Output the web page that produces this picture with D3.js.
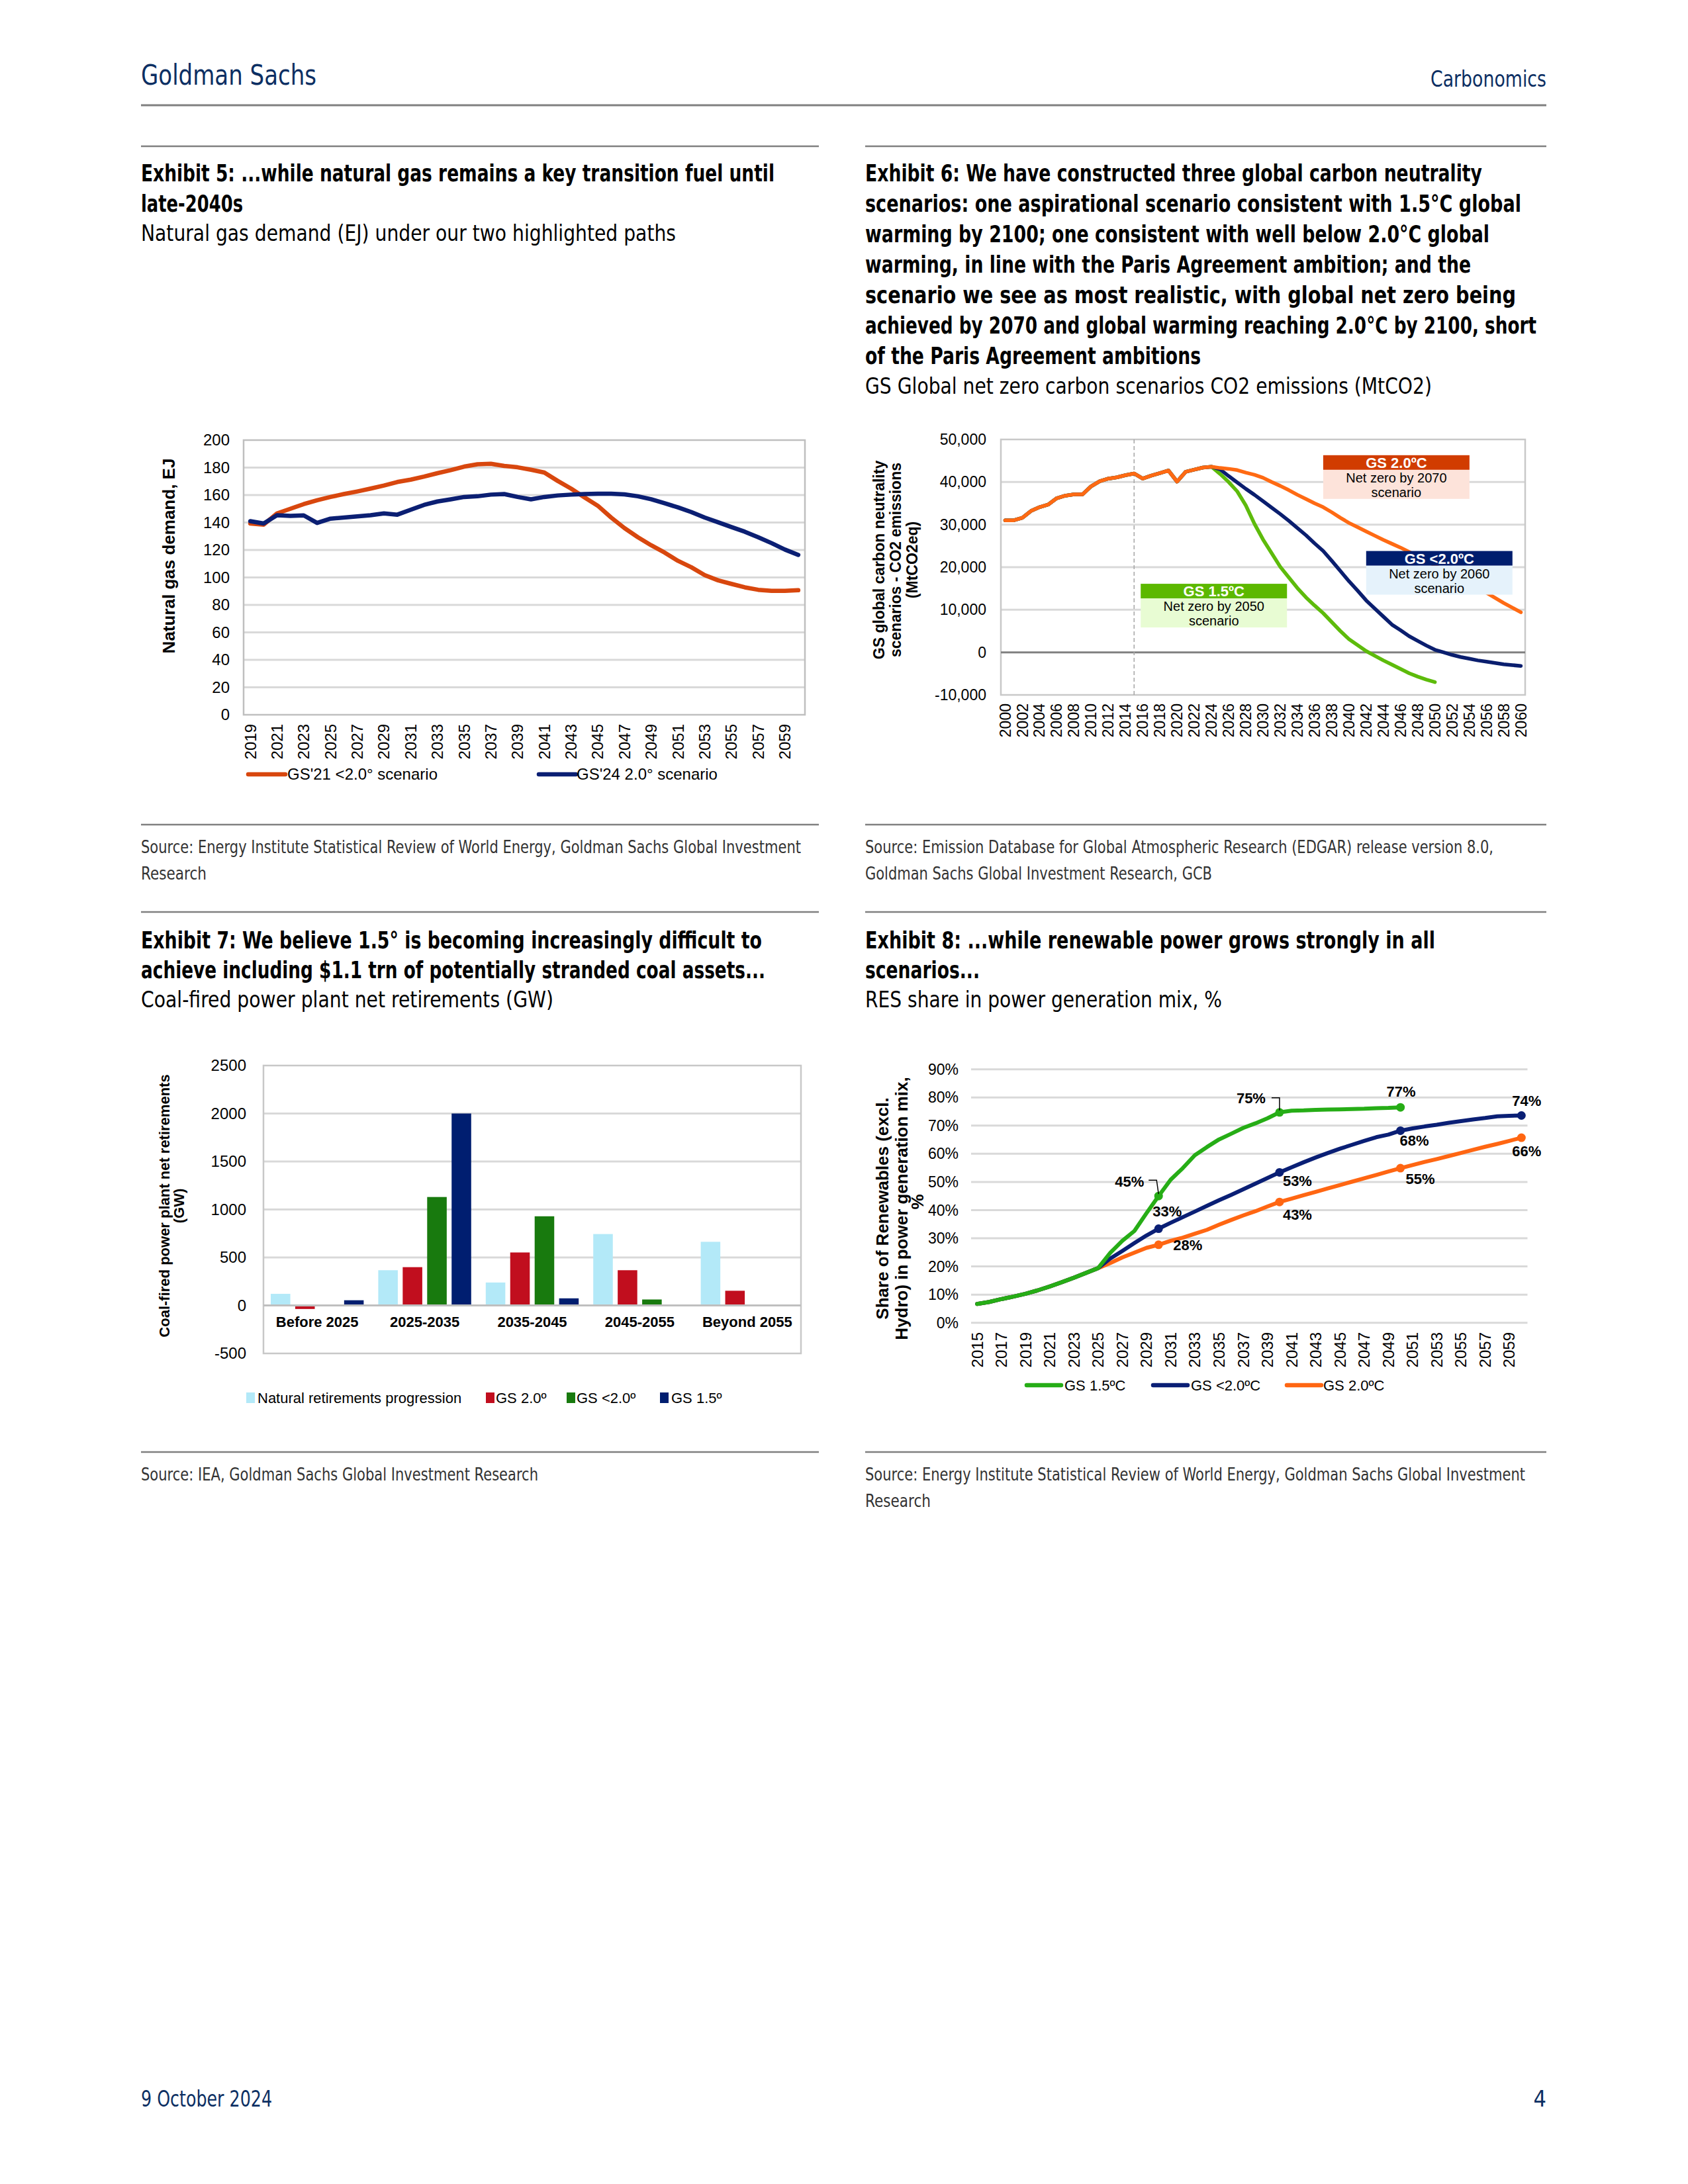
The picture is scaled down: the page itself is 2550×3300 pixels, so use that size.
<!DOCTYPE html>
<html><head><meta charset="utf-8">
<script src="https://cdn.jsdelivr.net/npm/d3@7/dist/d3.min.js"></script>
<style>html,body{margin:0;padding:0;background:#fff;}</style>
</head><body>
<svg id="page" width="2550" height="3300" xmlns="http://www.w3.org/2000/svg"></svg>
<script>
// ================= DATA =================
// Exhibit 5 – Natural gas demand (EJ)
const ex5Years = d3.range(2019, 2061);
const ex5GS21 = [139.3,138.4,146.6,150,153.4,156.2,158.6,160.7,162.6,164.7,166.9,169.5,171.2,173.4,175.9,178.1,180.7,182.4,182.8,181.2,180.2,178.4,176.4,170.3,164.7,158.3,152.2,143.6,135.9,129.3,123.4,118.1,112.1,107.4,101.7,97.9,95.3,92.8,91,90.2,90.3,90.7];
const ex5GS24 = [141,139.3,145.3,144.8,145.2,139.7,142.8,143.6,144.5,145.3,146.6,145.7,149.3,152.8,155.3,156.9,158.6,159.1,160.3,160.7,158.6,156.9,158.6,159.7,160.3,160.7,161,161,160.5,159.1,156.9,154,151,147.6,143.6,140.2,136.7,133.3,129.3,125,120.3,116.4];
const ex5SeriesNames = ["GS'21 <2.0° scenario", "GS'24 2.0° scenario"];
const ex5YTicks = [0,20,40,60,80,100,120,140,160,180,200];
const ex5XLabels = ex5Years.filter(y => y % 2 === 1);

// Exhibit 6 – CO2 emissions (MtCO2)
const ex6Years = d3.range(2000, 2061);
const ex6History = [31000,31000,31600,33200,34100,34700,36200,36800,37100,37100,39000,40200,40800,41100,41600,42000,40800,41500,42100,42700,40100,42400,42900,43400,43600]; // 2000-2024
const ex6GS20 = [43300,43100,42800,42200,41700,41000,40000,39100,38100,37000,36000,35000,34100,32900,31600,30400,29400,28400,27400,26400,25500,24600,23600,22500,21500,20400,19300,18300,17200,16100,15100,14000,12800,11600,10500,9400]; // 2025-2060
const ex6GSlt20 = [43000,41400,39900,38400,37000,35500,34000,32500,30900,29200,27500,25600,23800,21500,19100,16700,14500,12200,10300,8400,6500,5200,3800,2700,1600,600,0,-600,-1100,-1500,-1900,-2200,-2500,-2800,-3000,-3200]; // 2025-2060
const ex6GS15 = [41900,40000,37800,34500,30200,26500,23300,20100,17600,15100,12900,11000,9200,7100,5000,3100,1700,300,-800,-1900,-2900,-3900,-4900,-5700,-6400,-7000]; // 2025-2050
const ex6YTicks = [-10000,0,10000,20000,30000,40000,50000];
const ex6XLabels = ex6Years.filter(y => y % 2 === 0);
const ex6Boxes = [
  {title:"GS 2.0ºC", line1:"Net zero by 2070", line2:"scenario"},
  {title:"GS <2.0ºC", line1:"Net zero by 2060", line2:"scenario"},
  {title:"GS 1.5ºC", line1:"Net zero by 2050", line2:"scenario"}
];

// Exhibit 7 – Coal-fired power plant net retirements (GW)
const ex7Categories = ["Before 2025","2025-2035","2035-2045","2045-2055","Beyond 2055"];
const ex7SeriesNames = ["Natural retirements progression","GS 2.0º","GS <2.0º","GS 1.5º"];
const ex7Natural = [121,367,239,744,663];
const ex7GS20 = [-37,399,552,367,153];
const ex7GSlt20 = [10,1130,929,62,0];
const ex7GS15 = [54,2000,74,0,0];
const ex7YTicks = [-500,0,500,1000,1500,2000,2500];

// Exhibit 8 – RES share in power generation mix (%)
const ex8Years = d3.range(2015, 2061);
const ex8Common = [6.7,7.4,8.4,9.3,10.3,11.5,12.9,14.4,16.0,17.7,19.4]; // 2015-2025
const ex8GS15 = [24.8,29.1,32.6,38.9,45.0,50.8,54.9,59.5,62.4,65.1,67.1,69.2,70.8,72.6,74.7,75.3,75.4,75.6,75.7,75.8,75.9,76.0,76.2,76.3,76.5]; // 2026-2050
const ex8GSlt20 = [22.8,25.5,28.3,31.0,33.4,35.5,37.5,39.5,41.5,43.5,45.4,47.4,49.4,51.4,53.4,55.2,57.0,58.7,60.3,61.8,63.2,64.6,65.9,66.8,68.2,69.0,69.7,70.3,71.0,71.6,72.2,72.7,73.3,73.5,73.6]; // 2026-2060
const ex8GS20 = [21.2,23.2,24.9,26.6,27.7,29.1,30.2,31.6,33.0,34.8,36.5,38.1,39.6,41.3,42.9,44.1,45.3,46.5,47.7,48.9,50.1,51.3,52.5,53.7,54.9,56.0,57.1,58.1,59.2,60.3,61.4,62.5,63.5,64.6,65.7]; // 2026-2060
const ex8SeriesNames = ["GS 1.5ºC","GS <2.0ºC","GS 2.0ºC"];
const ex8YTicks = [0,10,20,30,40,50,60,70,80,90];
const ex8XLabels = ex8Years.filter(y => y % 2 === 1);
const ex8MarkerYears = [2030,2040,2050,2060];

// Page texts
const headerLeft = "Goldman Sachs", headerRight = "Carbonomics";
const footerLeft = "9 October 2024", footerRight = "4";
const ex5Title = ["Exhibit 5: ...while natural gas remains a key transition fuel until","late-2040s"];
const ex5Sub = "Natural gas demand (EJ) under our two highlighted paths";
const ex6Title = ["Exhibit 6: We have constructed three global carbon neutrality","scenarios: one aspirational scenario consistent with 1.5°C global","warming by 2100; one consistent with well below 2.0°C global","warming, in line with the Paris Agreement ambition; and the","scenario we see as most realistic, with global net zero being","achieved by 2070 and global warming reaching 2.0°C by 2100, short","of the Paris Agreement ambitions"];
const ex6Sub = "GS Global net zero carbon scenarios CO2 emissions (MtCO2)";
const ex7Title = ["Exhibit 7: We believe 1.5° is becoming increasingly difficult to","achieve including $1.1 trn of potentially stranded coal assets..."];
const ex7Sub = "Coal-fired power plant net retirements (GW)";
const ex8Title = ["Exhibit 8: ...while renewable power grows strongly in all","scenarios..."];
const ex8Sub = "RES share in power generation mix, %";
const ex5Source = ["Source: Energy Institute Statistical Review of World Energy, Goldman Sachs Global Investment","Research"];
const ex6Source = ["Source: Emission Database for Global Atmospheric Research (EDGAR) release version 8.0,","Goldman Sachs Global Investment Research, GCB"];
const ex7Source = ["Source: IEA, Goldman Sachs Global Investment Research"];
const ex8Source = ["Source: Energy Institute Statistical Review of World Energy, Goldman Sachs Global Investment","Research"];

// ================= RENDER =================
const svg = d3.select("#page");
const COND = "'Liberation Sans Narrow','DejaVu Sans Condensed','Liberation Sans',sans-serif";
const ARIAL = "'Liberation Sans',Arial,sans-serif";
const NAVYTXT = "#0C2F63";

function ptext(x, y, str, o) {
  const t = svg.append("text").attr("x", x).attr("y", y).text(str)
    .attr("font-family", COND).attr("font-size", o.size)
    .attr("fill", o.fill || "#000").attr("font-weight", o.bold ? "bold" : "normal");
  if (o.anchor) t.attr("text-anchor", o.anchor);
  if (o.len) t.attr("textLength", o.len).attr("lengthAdjust", "spacingAndGlyphs");
  return t;
}
function rule(x1, x2, y, w, c) {
  svg.append("line").attr("x1", x1).attr("x2", x2).attr("y1", y).attr("y2", y)
    .attr("stroke", c || "#808080").attr("stroke-width", w || 2.5);
}

// header / footer
ptext(213, 128, headerLeft, {size:42, fill:NAVYTXT, len:265});
ptext(2336, 131, headerRight, {size:33, fill:NAVYTXT, anchor:"end", len:175});
rule(213, 2336, 159, 3, "#7F7F7F");
ptext(213, 3183, footerLeft, {size:34, fill:NAVYTXT, len:198});
ptext(2336, 3183, footerRight, {size:34, fill:NAVYTXT, anchor:"end"});

// column rules
const L = 213, LR = 1237, R = 1307, RR = 2336;
[221, 1246, 1378, 2194].forEach(y => { rule(L, LR, y); rule(R, RR, y); });

// titles
const ex5Len = [957, 154], ex6Len = [932, 991, 943, 915, 983, 1014, 507], ex7Len = [938, 943], ex8Len = [861, 173];
ex5Title.forEach((s, i) => ptext(L, 274 + 46 * i, s, {size:35, bold:true, len:ex5Len[i]}));
ptext(L, 364, ex5Sub, {size:34, len:808});
ex6Title.forEach((s, i) => ptext(R, 274 + 46 * i, s, {size:35, bold:true, len:ex6Len[i]}));
ptext(R, 595, ex6Sub, {size:34, len:856});
ex7Title.forEach((s, i) => ptext(L, 1433 + 45 * i, s, {size:35, bold:true, len:ex7Len[i]}));
ptext(L, 1522, ex7Sub, {size:34, len:623});
ex8Title.forEach((s, i) => ptext(R, 1433 + 45 * i, s, {size:35, bold:true, len:ex8Len[i]}));
ptext(R, 1522, ex8Sub, {size:34, len:539});

// sources
const srcLen5 = [997, 99], srcLen6 = [949, 524], srcLen7 = [600], srcLen8 = [997, 99];
ex5Source.forEach((s, i) => ptext(L, 1289 + 40 * i, s, {size:27, fill:"#333", len:srcLen5[i]}));
ex6Source.forEach((s, i) => ptext(R, 1289 + 40 * i, s, {size:27, fill:"#333", len:srcLen6[i]}));
ex7Source.forEach((s, i) => ptext(L, 2237 + 40 * i, s, {size:27, fill:"#333", len:srcLen7[i]}));
ex8Source.forEach((s, i) => ptext(R, 2237 + 40 * i, s, {size:27, fill:"#333", len:srcLen8[i]}));

// generic helpers for charts
function hGrid(g, ticks, y, x1, x2, color, width) {
  g.append("g").selectAll("line").data(ticks).join("line")
    .attr("x1", x1).attr("x2", x2).attr("y1", d => y(d)).attr("y2", d => y(d))
    .attr("stroke", color).attr("stroke-width", width);
}
function yLabels(g, ticks, y, xRight, fmt, size) {
  g.append("g").selectAll("text").data(ticks).join("text")
    .attr("x", xRight).attr("y", d => y(d)).attr("dy", "0.35em")
    .attr("text-anchor", "end").attr("font-family", ARIAL).attr("font-size", size)
    .attr("fill", "#000").text(fmt);
}
function xRotLabels(g, labels, xc, top, size) {
  g.append("g").selectAll("text").data(labels).join("text")
    .attr("transform", d => `translate(${xc(d)},${top}) rotate(-90)`)
    .attr("text-anchor", "end").attr("dy", "0.35em")
    .attr("font-family", ARIAL).attr("font-size", size).attr("fill", "#000").text(d => d);
}
function rotTitle(g, lines, xs, cy, size) {
  lines.forEach((s, i) => {
    g.append("text").attr("transform", `translate(${xs[i]},${cy[i] !== undefined ? cy[i] : cy[0]}) rotate(-90)`)
      .attr("text-anchor", "middle").attr("dy", "0.35em")
      .attr("font-family", ARIAL).attr("font-weight", "bold").attr("font-size", size)
      .attr("fill", "#000").text(s);
  });
}

// ---------- Exhibit 5 ----------
(function () {
  const g = svg.append("g");
  const box = {l:368, r:1216, t:665, b:1080};
  const x = d3.scaleBand().domain(ex5Years).range([box.l, box.r]);
  const xc = d => x(d) + x.bandwidth() / 2;
  const y = d3.scaleLinear().domain([0, 200]).range([box.b, box.t]);
  hGrid(g, ex5YTicks.slice(1, -1), y, box.l, box.r, "#D9D9D9", 3);
  g.append("rect").attr("x", box.l).attr("y", box.t).attr("width", box.r - box.l).attr("height", box.b - box.t)
    .attr("fill", "none").attr("stroke", "#BFBFBF").attr("stroke-width", 2.5);
  yLabels(g, ex5YTicks, y, 347, d => d, 24);
  xRotLabels(g, ex5XLabels, xc, 1094, 24);
  rotTitle(g, ["Natural gas demand, EJ"], [255], [840], 26);
  const line = d3.line().x(d => xc(d[0])).y(d => y(d[1]));
  const series = [
    {vals: ex5GS21, color: "#D8470E"},
    {vals: ex5GS24, color: "#0B1F73"}
  ];
  series.forEach(s => {
    g.append("path").datum(ex5Years.map((yr, i) => [yr, s.vals[i]]))
      .attr("d", line).attr("fill", "none").attr("stroke", s.color)
      .attr("stroke-width", 6.5).attr("stroke-linejoin", "round").attr("stroke-linecap", "round");
  });
  // legend
  const leg = [{x:375, tx:434}, {x:814, tx:871}];
  ex5SeriesNames.forEach((n, i) => {
    g.append("line").attr("x1", leg[i].x).attr("x2", leg[i].x + 56).attr("y1", 1170).attr("y2", 1170)
      .attr("stroke", series[i].color).attr("stroke-width", 6.5).attr("stroke-linecap", "round");
    g.append("text").attr("x", leg[i].tx).attr("y", 1170).attr("dy", "0.35em")
      .attr("font-family", ARIAL).attr("font-size", 24).text(n);
  });
})();

// ---------- Exhibit 6 ----------
(function () {
  const g = svg.append("g");
  const box = {l:1512, r:2304, t:664, b:1050};
  const x = d3.scaleBand().domain(ex6Years).range([box.l, box.r]);
  const xc = d => x(d) + x.bandwidth() / 2;
  const y = d3.scaleLinear().domain([-10000, 50000]).range([box.b, box.t]);
  hGrid(g, ex6YTicks.filter(d => d !== 0 && d !== -10000 && d !== 50000), y, box.l, box.r, "#D9D9D9", 3);
  g.append("rect").attr("x", box.l).attr("y", box.t).attr("width", box.r - box.l).attr("height", box.b - box.t)
    .attr("fill", "none").attr("stroke", "#C8C8C8").attr("stroke-width", 2.5);
  hGrid(g, [0], y, box.l, box.r, "#808080", 3);
  // dashed marker at 2015
  g.append("line").attr("x1", xc(2015)).attr("x2", xc(2015)).attr("y1", box.t).attr("y2", box.b)
    .attr("stroke", "#A6A6A6").attr("stroke-width", 1.5).attr("stroke-dasharray", "6,4");
  const fmt = d => d3.format(",")(d).replace("−", "-");
  yLabels(g, ex6YTicks, y, 1490, fmt, 23);
  xRotLabels(g, ex6XLabels, xc, 1063, 23);
  rotTitle(g, ["GS  global carbon neutrality", "scenarios  - CO2 emissions", "(MtCO2eq)"], [1328, 1353, 1378], [846], 23);
  const line = d3.line().x(d => xc(d[0])).y(d => y(d[1]));
  const mk = arr => ex6History.concat(arr).map((v, i) => [ex6Years[i], v]);
  const series = [
    {data: mk(ex6GS15), color: "#5DBB0B"},
    {data: mk(ex6GSlt20), color: "#0A1E6E"},
    {data: mk(ex6GS20), color: "#FF6A13"}
  ];
  series.forEach(s => {
    g.append("path").datum(s.data).attr("d", line).attr("fill", "none").attr("stroke", s.color)
      .attr("stroke-width", 5.5).attr("stroke-linejoin", "round").attr("stroke-linecap", "round");
  });
  // annotation boxes
  const pos = [
    {year:2037, value:46300, w:221, head:"#D13C00", body:"#FDE3DA"},
    {year:2042, value:23800, w:221, head:"#001E6E", body:"#E5F2FB"},
    {year:2016, value:16100, w:221, head:"#5CB800", body:"#E8FCD3"}
  ];
  ex6Boxes.forEach((b, i) => {
    const p = pos[i];
    const x0 = xc(p.year) - (i === 2 ? 3 : 0), y0 = y(p.value);
    g.append("rect").attr("x", x0).attr("y", y0 + 22).attr("width", p.w).attr("height", 44).attr("fill", p.body);
    g.append("rect").attr("x", x0).attr("y", y0).attr("width", p.w).attr("height", 22).attr("fill", p.head);
    g.append("text").attr("x", x0 + p.w / 2).attr("y", y0 + 19).attr("text-anchor", "middle")
      .attr("font-family", ARIAL).attr("font-weight", "bold").attr("font-size", 22).attr("fill", "#fff").text(b.title);
    g.append("text").attr("x", x0 + p.w / 2).attr("y", y0 + 41).attr("text-anchor", "middle")
      .attr("font-family", ARIAL).attr("font-size", 20).attr("fill", "#000").text(b.line1);
    g.append("text").attr("x", x0 + p.w / 2).attr("y", y0 + 63).attr("text-anchor", "middle")
      .attr("font-family", ARIAL).attr("font-size", 20).attr("fill", "#000").text(b.line2);
  });
})();

// ---------- Exhibit 7 ----------
(function () {
  const g = svg.append("g");
  const box = {l:398, r:1210, t:1610, b:2045};
  const x0 = d3.scaleBand().domain(ex7Categories).range([box.l, box.r]);
  const x1 = d3.scaleBand().domain(ex7SeriesNames).range([11, x0.bandwidth() - 11]).paddingInner(0.2);
  const y = d3.scaleLinear().domain([-500, 2500]).range([box.b, box.t]);
  hGrid(g, ex7YTicks.filter(d => d !== -500 && d !== 2500 && d !== 0), y, box.l, box.r, "#D9D9D9", 3);
  g.append("rect").attr("x", box.l).attr("y", box.t).attr("width", box.r - box.l).attr("height", box.b - box.t)
    .attr("fill", "none").attr("stroke", "#C8C8C8").attr("stroke-width", 2.5);
  yLabels(g, ex7YTicks, y, 372, d => d, 24);
  rotTitle(g, ["Coal-fired power plant net retirements", "(GW)"], [248, 270], [1822], 22);
  const colors = ["#B3E9F8", "#C10E1E", "#187A0E", "#001E70"];
  const vals = [ex7Natural, ex7GS20, ex7GSlt20, ex7GS15];
  const rows = [];
  ex7Categories.forEach((c, ci) => ex7SeriesNames.forEach((s, si) => rows.push({c, s, si, v: vals[si][ci]})));
  g.append("g").selectAll("rect").data(rows.filter(d => d.v !== 0)).join("rect")
    .attr("x", d => x0(d.c) + x1(d.s)).attr("width", x1.bandwidth())
    .attr("y", d => y(Math.max(0, d.v))).attr("height", d => Math.abs(y(d.v) - y(0)))
    .attr("fill", d => colors[d.si]);
  hGrid(g, [0], y, box.l, box.r, "#BFBFBF", 3);
  g.append("g").selectAll("text").data(ex7Categories).join("text")
    .attr("x", d => x0(d) + x0.bandwidth() / 2).attr("y", 1997).attr("dy", "0.35em")
    .attr("text-anchor", "middle").attr("font-family", ARIAL).attr("font-weight", "bold")
    .attr("font-size", 22).text(d => d);
  // legend
  const lx = [{s:372, t:389}, {s:734, t:749}, {s:856, t:871}, {s:997, t:1014}];
  ex7SeriesNames.forEach((n, i) => {
    g.append("rect").attr("x", lx[i].s).attr("y", 2104).attr("width", 13).attr("height", 16).attr("fill", colors[i]);
    g.append("text").attr("x", lx[i].t).attr("y", 2112).attr("dy", "0.35em")
      .attr("font-family", ARIAL).attr("font-size", 22).text(n);
  });
})();

// ---------- Exhibit 8 ----------
(function () {
  const g = svg.append("g");
  const box = {l:1467, r:2307.5, t:1615.7, b:1998.7};
  const x = d3.scaleBand().domain(ex8Years).range([box.l, box.r]);
  const xc = d => x(d) + x.bandwidth() / 2;
  const y = d3.scaleLinear().domain([0, 90]).range([box.b, box.t]);
  hGrid(g, ex8YTicks, y, box.l, box.r, "#D9D9D9", 3);
  yLabels(g, ex8YTicks, y, 1448, d => d + "%", 23);
  xRotLabels(g, ex8XLabels, xc, 2013, 24);
  rotTitle(g, ["Share of Renewables (excl.", "Hydro) in power generation mix,", "%"], [1333, 1362, 1386], [1826, 1826, 1816], 26);
  const line = d3.line().x(d => xc(d[0])).y(d => y(d[1]));
  const mk = arr => ex8Common.concat(arr).map((v, i) => [ex8Years[i], v]);
  const colors = ["#26AD16", "#0A1F75", "#FF6612"];
  const series = [mk(ex8GS15), mk(ex8GSlt20), mk(ex8GS20)];
  const order = [2, 1, 0];
  order.forEach(i => {
    g.append("path").datum(series[i]).attr("d", line).attr("fill", "none").attr("stroke", colors[i])
      .attr("stroke-width", 6).attr("stroke-linejoin", "round").attr("stroke-linecap", "round");
    g.append("g").selectAll("circle").data(series[i].filter(d => ex8MarkerYears.includes(d[0]))).join("circle")
      .attr("cx", d => xc(d[0])).attr("cy", d => y(d[1])).attr("r", 6.5).attr("fill", colors[i]);
  });
  // data labels (offsets from the point)
  const labels = [
    {si:0, yr:2030, dx:-44, dy:-14, lead:[[-15,-24],[-3,-24],[0,-3]]},
    {si:0, yr:2040, dx:-43, dy:-14, lead:[[-12,-22],[0,-22],[0,-3]]},
    {si:0, yr:2050, dx:1, dy:-16},
    {si:1, yr:2030, dx:13, dy:-19},
    {si:1, yr:2040, dx:27, dy:21},
    {si:1, yr:2050, dx:21, dy:23},
    {si:1, yr:2060, dx:8, dy:-14},
    {si:2, yr:2030, dx:44, dy:8},
    {si:2, yr:2040, dx:27, dy:27},
    {si:2, yr:2050, dx:30, dy:24},
    {si:2, yr:2060, dx:8, dy:28}
  ];
  labels.forEach(l => {
    const pt = series[l.si].find(d => d[0] === l.yr);
    const px = xc(pt[0]), py = y(pt[1]);
    if (l.lead) {
      g.append("path").attr("d", d3.line()(l.lead.map(p => [px + p[0], py + p[1]])))
        .attr("fill", "none").attr("stroke", "#000").attr("stroke-width", 1.5);
    }
    g.append("text").attr("x", px + l.dx).attr("y", py + l.dy).attr("text-anchor", "middle")
      .attr("font-family", ARIAL).attr("font-weight", "bold").attr("font-size", 22)
      .text(Math.round(pt[1]) + "%");
  });
  // legend
  const lx = [{s:1551, t:1608}, {s:1742, t:1799}, {s:1944, t:1999}];
  ex8SeriesNames.forEach((n, i) => {
    g.append("line").attr("x1", lx[i].s).attr("x2", lx[i].s + 52).attr("y1", 2093).attr("y2", 2093)
      .attr("stroke", colors[i]).attr("stroke-width", 6.5).attr("stroke-linecap", "round");
    g.append("text").attr("x", lx[i].t).attr("y", 2093).attr("dy", "0.35em")
      .attr("font-family", ARIAL).attr("font-size", 22).text(n);
  });
})();
</script>
</body></html>
